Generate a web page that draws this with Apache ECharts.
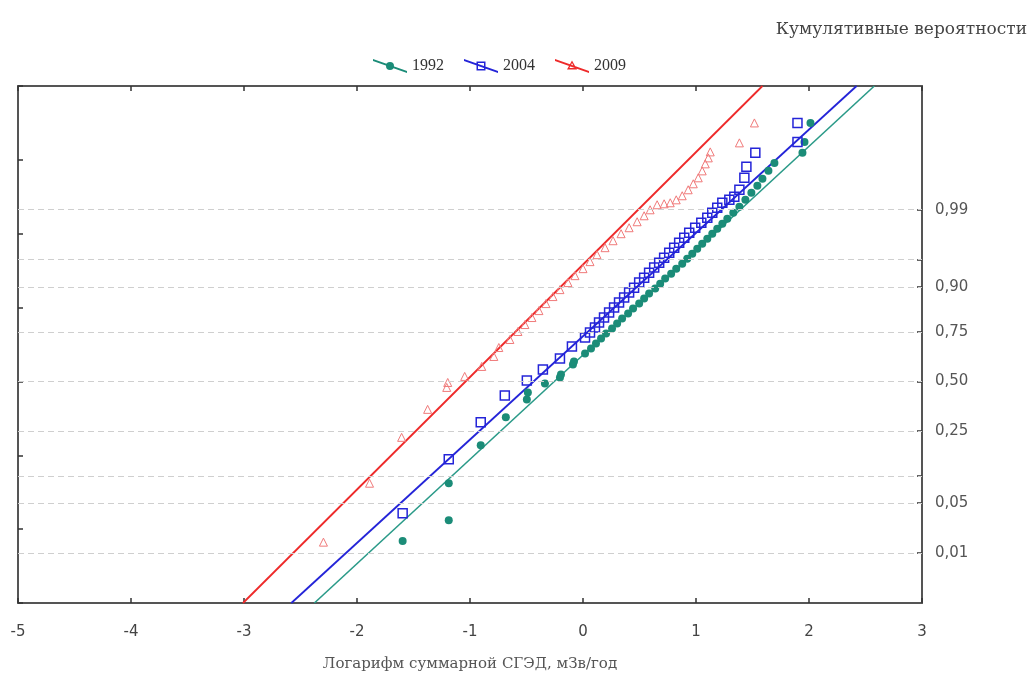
<!DOCTYPE html>
<html>
<head>
<meta charset="utf-8">
<script src="https://cdn.jsdelivr.net/npm/echarts@6/dist/echarts.min.js"></script>
<style>
html,body{margin:0;padding:0;background:#fff;}
#c{width:1033px;height:673px;}
</style>
</head>
<body>
<div id="c"></div>
<script>
// ---- data (x = log of dose, z = normal quantile of cumulative probability) ----
const seriesNames = ['1992', '2004', '2009'];

const x1992 = [-1.596,-1.188,-1.188,-0.905,-0.683,-0.497,-0.488,-0.337,-0.204,-0.195,-0.089,-0.080,0.018,0.071,0.115,0.160,0.204,0.257,0.302,0.346,0.399,0.443,0.497,0.541,0.585,0.639,0.683,0.727,0.780,0.825,0.878,0.922,0.967,1.011,1.055,1.100,1.144,1.188,1.233,1.277,1.330,1.384,1.437,1.490,1.543,1.588,1.641,1.694,1.942,1.960,2.013];
const z1992 = [-2.162,-1.878,-1.378,-0.865,-0.486,-0.243,-0.149,-0.027,0.054,0.095,0.230,0.270,0.378,0.446,0.514,0.581,0.649,0.716,0.784,0.851,0.919,0.986,1.054,1.122,1.189,1.257,1.324,1.392,1.459,1.527,1.595,1.662,1.730,1.797,1.865,1.932,2.000,2.068,2.135,2.203,2.284,2.365,2.459,2.554,2.649,2.743,2.851,2.959,3.095,3.243,3.500];

const x2004 = [-1.596,-1.188,-0.905,-0.692,-0.497,-0.355,-0.204,-0.098,0.018,0.062,0.106,0.142,0.186,0.231,0.275,0.319,0.364,0.408,0.452,0.497,0.541,0.585,0.630,0.674,0.718,0.763,0.807,0.851,0.896,0.940,0.993,1.047,1.100,1.144,1.188,1.233,1.295,1.339,1.384,1.428,1.446,1.525,1.898,1.898];
const z2004 = [-1.784,-1.054,-0.554,-0.189,0.014,0.162,0.311,0.473,0.595,0.662,0.730,0.797,0.865,0.932,1.000,1.068,1.135,1.203,1.270,1.338,1.405,1.473,1.541,1.608,1.676,1.743,1.811,1.878,1.946,2.014,2.081,2.149,2.216,2.284,2.351,2.419,2.459,2.500,2.595,2.757,2.905,3.095,3.243,3.500];

const x2009 = [-2.297,-1.889,-1.605,-1.375,-1.206,-1.197,-1.047,-0.896,-0.789,-0.745,-0.647,-0.576,-0.514,-0.452,-0.390,-0.328,-0.266,-0.204,-0.133,-0.071,0.000,0.062,0.124,0.195,0.266,0.337,0.408,0.479,0.541,0.594,0.656,0.718,0.772,0.825,0.878,0.931,0.976,1.020,1.055,1.082,1.109,1.126,1.384,1.517];
const z2009 = [-2.176,-1.378,-0.757,-0.378,-0.081,-0.014,0.068,0.203,0.338,0.459,0.568,0.676,0.770,0.865,0.959,1.054,1.149,1.243,1.338,1.432,1.527,1.622,1.716,1.811,1.905,2.000,2.081,2.162,2.243,2.324,2.392,2.405,2.419,2.459,2.514,2.595,2.676,2.757,2.851,2.946,3.027,3.108,3.230,3.500];

// fitted lines: [x at z=-3, x at z=4]
const fitX1992 = [-2.377, 2.578];
const fitX2004 = [-2.581, 2.421];
const fitX2009 = [-3.009, 1.588];
const fitZ = [-3, 4];

// probability axis (right): normal quantiles and their labels
const probZ = [-2.326, -1.645, -1.282, -0.674, 0, 0.674, 1.282, 1.645, 2.326];
const probLabels = ['0,01', '0,05', '', '0,25', '0,50', '0,75', '0,90', '', '0,99'];

// ---- build ----
function pairs(xs, zs) {
  const n = Math.min(xs.length, zs.length);
  const out = [];
  for (let i = 0; i < n; i++) out.push([xs[i], zs[i]]);
  return out;
}

const C_TEAL = '#1b8c78', C_TEAL_LINE = '#2a9a88';
const C_BLUE = '#2424d8';
const C_RED = '#ee2a2a', C_RED_PT = '#f07a7a';
const AXIS_C = '#555';

const lineIcon = 'M0,1 L34,13 L34,15.2 L0,3.2 Z ';
const iconTeal = 'path://' + lineIcon + 'M13,8 A4,4 0 1 1 21,8 A4,4 0 1 1 13,8 Z';
const iconBlue = 'path://' + lineIcon + 'M12.5,3.5 L21.5,3.5 L21.5,12.5 L12.5,12.5 Z M14,5 L14,11 L20,11 L20,5 Z';
const iconRed = 'path://' + lineIcon + 'M17,2.5 L22,11.5 L12,11.5 Z M17,5.2 L14.4,10 L19.6,10 Z';

const axisLineStyle = { color: AXIS_C, width: 2 };
const tickStyle = { color: '#333', width: 1.5 };

const chart = echarts.init(document.getElementById('c'), null, { renderer: 'canvas' });
chart.setOption({
  animation: false,
  backgroundColor: '#fff',
  title: {
    text: 'Кумулятивные вероятности',
    right: 1, top: 16,
    textStyle: { fontFamily: 'DejaVu Serif', fontSize: 17, fontWeight: 'normal', color: '#444' }
  },
  legend: {
    left: 368, top: 53,
    itemWidth: 34, itemHeight: 16, itemGap: 20,
    textStyle: { fontFamily: 'Liberation Serif', fontSize: 16, color: '#333' },
    data: [
      { name: seriesNames[0], icon: iconTeal, itemStyle: { color: C_TEAL, borderWidth: 0 } },
      { name: seriesNames[1], icon: iconBlue, itemStyle: { color: C_BLUE, borderWidth: 0 } },
      { name: seriesNames[2], icon: iconRed, itemStyle: { color: C_RED, borderWidth: 0 } }
    ]
  },
  grid: { left: 18, right: 111, top: 86, bottom: 70, containLabel: false, outerBoundsMode: 'none' },
  xAxis: [
    {
      type: 'value', position: 'bottom', min: -5, max: 3, interval: 1,
      axisLine: { show: true, onZero: false, lineStyle: axisLineStyle },
      axisTick: { show: true, inside: true, length: 5, lineStyle: tickStyle },
      axisLabel: { margin: 22, fontFamily: 'DejaVu Sans', fontSize: 15, color: '#444',
        formatter: v => String(v) },
      splitLine: { show: false },
      name: 'Логарифм суммарной СГЭД, мЗв/год',
      nameLocation: 'middle', nameGap: 54,
      nameTextStyle: { fontFamily: 'DejaVu Serif', fontSize: 15, color: '#555' }
    },
    {
      type: 'value', position: 'top', min: -5, max: 3, interval: 1,
      axisLine: { show: true, onZero: false, lineStyle: axisLineStyle },
      axisTick: { show: true, inside: true, length: 5, lineStyle: tickStyle },
      axisLabel: { show: false },
      splitLine: { show: false }
    }
  ],
  yAxis: [
    {
      type: 'value', position: 'left', min: -3, max: 4, interval: 1,
      axisLine: { show: true, onZero: false, lineStyle: axisLineStyle },
      axisTick: { show: true, inside: true, length: 5, lineStyle: tickStyle },
      axisLabel: { show: false },
      splitLine: { show: false }
    },
    {
      type: 'value', position: 'right', min: -3, max: 4,
      axisLine: { show: true, onZero: false, lineStyle: axisLineStyle },
      axisTick: { show: true, inside: true, length: 5, customValues: probZ, lineStyle: tickStyle },
      axisLabel: {
        show: true, margin: 13, fontFamily: 'DejaVu Sans', fontSize: 15, color: '#555',
        customValues: probZ.filter((z, i) => probLabels[i] !== ''),
        formatter: v => {
          const i = probZ.findIndex(z => Math.abs(z - v) < 1e-6);
          return i >= 0 ? probLabels[i] : '';
        }
      },
      splitLine: { show: false }
    }
  ],
  series: [
    {
      name: 'fit1992', type: 'line', xAxisIndex: 0, yAxisIndex: 0,
      data: pairs(fitX1992, fitZ), symbol: 'none', silent: true, z: 2,
      lineStyle: { color: C_TEAL_LINE, width: 1.6 },
      markLine: {
        silent: true, symbol: ['none', 'none'], label: { show: false },
        lineStyle: { color: '#cfcfcf', type: [6, 4], width: 1 },
        data: probZ.map(z => ({ yAxis: z }))
      }
    },
    {
      name: 'fit2004', type: 'line', xAxisIndex: 0, yAxisIndex: 0,
      data: pairs(fitX2004, fitZ), symbol: 'none', silent: true, z: 2,
      lineStyle: { color: C_BLUE, width: 1.8 }
    },
    {
      name: 'fit2009', type: 'line', xAxisIndex: 0, yAxisIndex: 0,
      data: pairs(fitX2009, fitZ), symbol: 'none', silent: true, z: 2,
      lineStyle: { color: C_RED, width: 1.8 }
    },
    {
      name: seriesNames[0], type: 'scatter', xAxisIndex: 0, yAxisIndex: 0,
      data: pairs(x1992, z1992), symbol: 'circle', symbolSize: 8, z: 3,
      itemStyle: { color: C_TEAL, opacity: 1 }
    },
    {
      name: seriesNames[1], type: 'scatter', xAxisIndex: 0, yAxisIndex: 0,
      data: pairs(x2004, z2004), symbol: 'rect', symbolSize: 9, z: 4,
      itemStyle: { color: 'rgba(255,255,255,0)', borderColor: C_BLUE, borderWidth: 1.5, opacity: 1 }
    },
    {
      name: seriesNames[2], type: 'scatter', xAxisIndex: 0, yAxisIndex: 0,
      data: pairs(x2009, z2009), symbol: 'triangle', symbolSize: 8, z: 4,
      itemStyle: { color: 'rgba(255,255,255,0)', borderColor: C_RED_PT, borderWidth: 1, opacity: 1 }
    }
  ]
});
</script>
</body>
</html>
